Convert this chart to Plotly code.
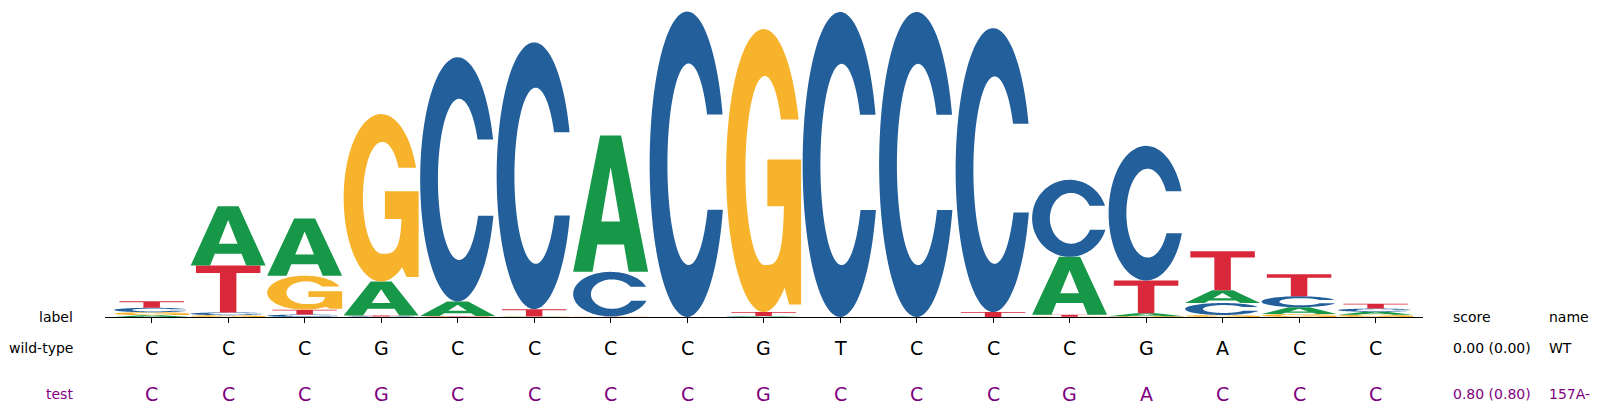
import numpy as np
import plotly.graph_objects as go

# sequence logo data (bits per base)
positions = list(range(17))
heights_A = [0.012, 0.386, 0.373, 0.221, 0.095, 0.002, 0.888, 0.0, 0.004, 0.0, 0.0, 0.0, 0.377, 0.019, 0.084, 0.045, 0.019]
heights_C = [0.029, 0.018, 0.016, 0.003, 1.591, 1.738, 0.290, 1.990, 0.002, 1.987, 1.987, 1.850, 0.502, 0.877, 0.078, 0.071, 0.021]
heights_G = [0.019, 0.012, 0.221, 1.091, 0.003, 0.002, 0.002, 0.0, 1.844, 0.0, 0.0, 0.0, 0.002, 0.005, 0.013, 0.019, 0.015]
heights_T = [0.042, 0.305, 0.032, 0.007, 0.003, 0.047, 0.002, 0.0, 0.026, 0.0, 0.0, 0.032, 0.013, 0.214, 0.253, 0.143, 0.031]

wt_seq = list("CCCGCCCCGTCCCGACC")
test_seq = list("CCCGCCCCGCCCGACCC")
row_labels = ["label", "wild-type", "test"]
scores = ["score", "0.00 (0.00)", "0.80 (0.80)"]
names = ["name", "WT", "157A-"]

colors = {"A": "#179849", "C": "#235F9B", "G": "#F7B32B", "T": "#D9283A"}
purple = "#800080"
W = 0.98  # glyph width in position units


def ell(cx, cy, a, b, t, n=2.0):
    c, s = np.cos(t), np.sin(t)
    x = cx + a * np.sign(c) * np.abs(c) ** (2 / n)
    y = cy + b * np.sign(s) * np.abs(s) ** (2 / n)
    return list(zip(x, y))


def t_at(v, cy, b, n=2.0):
    r = (v - cy) / b
    return np.sign(r) * np.arcsin(np.abs(r) ** (n / 2))


def glyph(letter):
    # outlines in a unit box, list of rings
    if letter == "A":
        outer = [(0, 0), (0.36, 1), (0.64, 1), (1, 0), (0.741, 0), (0.678, 0.2),
                 (0.322, 0.2), (0.259, 0)]
        hole = [(0.375, 0.37), (0.5, 0.77), (0.625, 0.37)]
        return [outer, hole]
    if letter == "T":
        return [[(0.07, 1), (0.93, 1), (0.93, 0.84), (0.61, 0.84), (0.61, 0),
                 (0.39, 0), (0.39, 0.84), (0.07, 0.84)]]
    if letter == "C":
        to1 = t_at(0.663, 0.5, 0.5)
        to2 = t_at(0.351, 0.5, 0.5)
        ti1 = t_at(0.663, 0.5, 0.33)
        ti2 = t_at(0.351, 0.5, 0.33)
        outer = ell(0.5, 0.5, 0.5, 0.5, np.linspace(to1, 2 * np.pi + to2, 100))
        inner = ell(0.52, 0.5, 0.283, 0.33, np.linspace(2 * np.pi + ti2, ti1, 80))
        return [outer + inner]
    # G
    to1 = t_at(0.68, 0.5, 0.5)
    t_end = -np.arccos(0.56)  # outer bottom right, u = 0.78
    outer = ell(0.5, 0.5, 0.5, 0.5, np.linspace(to1, 2 * np.pi + t_end, 90))
    stem = [(0.84, 0.027), (1.0, 0.027), (1.0, 0.539), (0.55, 0.539), (0.55, 0.374)]
    # counter: squarer in the lower-right quarter where it meets the stem
    t1 = t_at(0.374, 0.5, 0.334, 3.5)
    lower_right = ell(0.515, 0.5, 0.258, 0.334, np.linspace(t1, -np.pi / 2, 30), 3.5)
    ti2 = t_at(0.68, 0.5, 0.334)
    rest = ell(0.515, 0.5, 0.258, 0.334, np.linspace(-np.pi / 2, ti2 - 2 * np.pi, 70))
    return [outer + stem + lower_right + rest]


def glyph_path(letter, xc, y0, h):
    parts = []
    for ring in glyph(letter):
        pts = ["%.4f,%.5f" % (xc - W / 2 + u * W, y0 + v * h) for u, v in ring]
        parts.append("M" + " L".join(pts) + " Z")
    return " ".join(parts)


heights = {"A": heights_A, "C": heights_C, "G": heights_G, "T": heights_T}
shapes = []
for i, p in enumerate(positions):
    stack = sorted(((heights[b][i], b) for b in "ACGT"))
    y0 = 0.0
    for h, b in stack:
        if h > 0:
            shapes.append(dict(type="path", xref="x", yref="y", path=glyph_path(b, p, y0, h),
                               fillcolor=colors[b], line=dict(width=0), layer="above"))
        y0 += h

annotations = []
font = "DejaVu Sans"
row_y = [0.001, -0.102, -0.251]
row_col = ["black", "black", purple]
for lab, sc, nm, yy, col in zip(row_labels, scores, names, row_y, row_col):
    annotations.append(dict(xref="paper", yref="paper", x=-0.0225, y=yy, text=lab, showarrow=False,
                            xanchor="right", yanchor="middle", font=dict(family=font, size=14, color=col)))
    annotations.append(dict(xref="paper", yref="paper", x=1.0212, y=yy, text=sc, showarrow=False,
                            xanchor="left", yanchor="middle", font=dict(family=font, size=14, color=col)))
    annotations.append(dict(xref="paper", yref="paper", x=1.0943, y=yy, text=nm, showarrow=False,
                            xanchor="left", yanchor="middle", font=dict(family=font, size=14, color=col)))
for seq, yy, col in [(wt_seq, row_y[1], "black"), (test_seq, row_y[2], purple)]:
    for p, b in zip(positions, seq):
        annotations.append(dict(xref="x", yref="paper", x=p, y=yy, text=b, showarrow=False,
                                xanchor="center", yanchor="middle", font=dict(family=font, size=19, color=col)))

fig = go.Figure()
fig.add_trace(go.Scatter(x=positions, y=[0] * len(positions), mode="markers",
                         marker=dict(opacity=0), hoverinfo="skip", showlegend=False))
# the page body adds an 8px margin, so the figure is 8px smaller on each axis
fig.update_layout(
    width=1591, height=407,
    margin=dict(l=97, r=176, t=2, b=98),
    paper_bgcolor="white", plot_bgcolor="white",
    shapes=shapes, annotations=annotations, showlegend=False,
    xaxis=dict(range=[-0.61, 16.62], showgrid=False, zeroline=False, showline=True,
               linecolor="black", linewidth=1.3, ticks="outside", ticklen=5, tickwidth=1,
               tickcolor="black", tickvals=positions, showticklabels=False),
    yaxis=dict(range=[0, 2.0], visible=False, showgrid=False, zeroline=False),
)
fig.write_html("out.html")
